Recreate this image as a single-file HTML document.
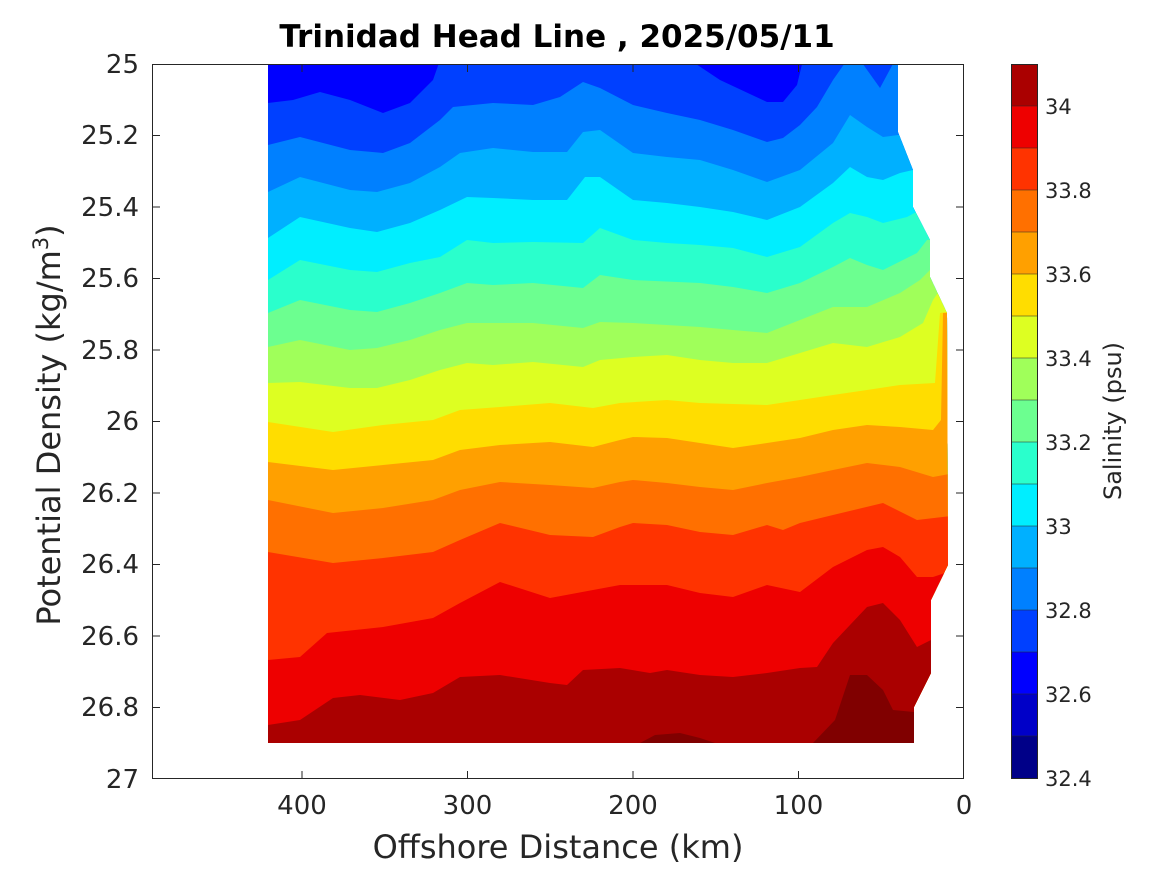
<!DOCTYPE html>
<html><head><meta charset="utf-8"><style>
html,body{margin:0;padding:0;background:#fff;}
svg{display:block;font-family:"DejaVu Sans","Liberation Sans",sans-serif;}
</style></head><body>
<svg width="1167" height="875" viewBox="0 0 1167 875" xmlns="http://www.w3.org/2000/svg">
<defs>
<clipPath id="dc"><polygon points="268,64 898,64 898,132 913,170 913,207 930,240 930,277 947,313 948,565 931,600 931,673 914,707 914,743 268,743"/></clipPath>
</defs>
<g clip-path="url(#dc)">
<rect x="260" y="60" width="700" height="690" fill="#0040ff"/>
<polygon fill="#0000ff" points="260,60 260,103 268,103 293,100 320,92 350,100 383,113 410,103 433,80 440,60"/>
<polygon fill="#0000ff" points="690,60 720,80 767,102 783,102 797,85 803,60"/>
<polygon fill="#0080ff" points="260,145 268,145 300,137 350,150 383,153 410,143 440,120 453,107 493,103 533,105 560,97 583,82 600,88 633,105 667,113 700,120 733,130 767,142 783,138 800,125 817,107 833,80 847,60 860,60 880,88 895,60 960,60 960,750 260,750"/>
<polygon fill="#00b0ff" points="260,192 268,192 300,177 350,190 377,192 410,183 440,167 460,153 493,148 533,152 567,152 583,132 600,130 633,153 667,157 700,160 733,170 767,182 800,170 833,143 850,115 867,127 883,137 898,135 960,135 960,750 260,750"/>
<polygon fill="#00eeff" points="260,238 268,238 300,217 350,228 377,232 410,223 440,210 467,197 493,198 533,200 567,200 585,177 600,177 633,200 667,203 700,207 733,212 767,220 800,207 833,183 850,167 867,177 883,180 900,173 913,170 960,170 960,750 260,750"/>
<polygon fill="#2affcc" points="260,280 268,280 300,260 350,270 377,272 410,263 440,257 467,240 493,243 533,242 583,243 600,228 633,240 667,243 700,245 733,248 767,257 800,247 833,223 850,213 867,217 883,223 907,217 920,210 960,205 960,750 260,750"/>
<polygon fill="#6cff90" points="260,313 268,313 300,300 350,310 377,312 410,303 440,293 467,283 493,285 533,283 583,288 600,275 633,280 700,283 733,287 767,293 800,283 833,267 850,258 867,265 883,270 917,253 927,240 960,235 960,750 260,750"/>
<polygon fill="#a0ff5a" points="260,347 268,347 300,340 350,350 377,348 410,340 440,330 467,323 493,323 533,323 583,328 600,322 633,323 700,327 733,330 767,333 800,320 833,307 867,307 900,293 920,280 933,267 960,260 960,750 260,750"/>
<polygon fill="#ddff22" points="260,383 268,383 300,382 350,388 377,388 410,380 440,370 467,363 493,365 533,362 583,367 600,360 633,357 667,355 700,360 733,363 767,363 800,353 833,343 867,347 900,337 923,323 933,300 940,290 960,285 960,750 260,750"/>
<polygon fill="#ffdd00" points="260,422 268,422 333,432 383,425 433,420 460,410 500,407 550,403 593,408 620,403 667,400 700,403 767,405 800,400 833,395 867,390 900,385 935,383 940,313 960,310 960,750 260,750"/>
<polygon fill="#ffa000" points="260,462 268,462 333,470 383,465 433,460 460,450 500,445 550,442 593,447 620,440 633,437 667,438 700,443 733,448 767,443 800,438 833,430 867,425 900,427 933,430 941,420 943,313 960,313 960,750 260,750"/>
<polygon fill="#ff7000" points="260,500 268,500 333,513 383,508 433,500 460,490 500,482 550,485 593,488 620,482 633,480 667,483 700,487 733,490 767,483 800,477 833,470 867,463 900,467 933,477 960,472 960,750 260,750"/>
<polygon fill="#ff3300" points="260,552 268,552 333,563 383,558 433,552 460,540 500,523 550,535 593,537 620,527 633,523 667,525 700,532 733,535 767,525 783,530 800,523 833,515 883,503 917,520 960,515 960,750 260,750"/>
<polygon fill="#ee0000" points="260,660 268,660 300,657 327,633 383,627 433,618 460,603 500,582 550,598 593,590 620,585 667,585 700,593 733,597 767,585 800,592 833,567 867,550 883,547 900,557 917,577 933,577 960,568 960,750 260,750"/>
<polygon fill="#aa0000" points="260,725 268,725 300,720 333,698 360,695 400,700 433,693 460,677 500,675 550,683 567,685 583,670 620,668 650,673 667,670 700,675 733,677 767,673 800,668 817,667 833,643 867,607 883,603 900,620 917,647 931,640 960,640 960,750 260,750"/>
<polygon fill="#800000" points="640,743 655,735 680,733 700,738 715,743"/>
<polygon fill="#800000" points="813,743 835,720 850,675 867,675 883,690 893,710 914,712 914,743"/>
</g>
<rect x="152.5" y="64.5" width="811" height="714" fill="none" stroke="#262626" stroke-width="1"/>
<g stroke="#262626" stroke-width="1">
<line x1="302" y1="779" x2="302" y2="771"/><line x1="467.5" y1="779" x2="467.5" y2="771"/><line x1="633" y1="779" x2="633" y2="771"/><line x1="798.5" y1="779" x2="798.5" y2="771"/>
<line x1="302" y1="64" x2="302" y2="72"/><line x1="467.5" y1="64" x2="467.5" y2="72"/><line x1="633" y1="64" x2="633" y2="72"/><line x1="798.5" y1="64" x2="798.5" y2="72"/>
<line x1="152" y1="135.5" x2="160" y2="135.5"/><line x1="152" y1="207" x2="160" y2="207"/><line x1="152" y1="278.5" x2="160" y2="278.5"/><line x1="152" y1="350" x2="160" y2="350"/><line x1="152" y1="421.5" x2="160" y2="421.5"/><line x1="152" y1="493" x2="160" y2="493"/><line x1="152" y1="564.5" x2="160" y2="564.5"/><line x1="152" y1="636" x2="160" y2="636"/><line x1="152" y1="707.5" x2="160" y2="707.5"/>
<line x1="964" y1="135.5" x2="956" y2="135.5"/><line x1="964" y1="207" x2="956" y2="207"/><line x1="964" y1="278.5" x2="956" y2="278.5"/><line x1="964" y1="350" x2="956" y2="350"/><line x1="964" y1="421.5" x2="956" y2="421.5"/><line x1="964" y1="493" x2="956" y2="493"/><line x1="964" y1="564.5" x2="956" y2="564.5"/><line x1="964" y1="636" x2="956" y2="636"/><line x1="964" y1="707.5" x2="956" y2="707.5"/>
</g>
<g font-size="26" fill="#262626" text-anchor="end">
<text x="139" y="73">25</text><text x="139" y="144">25.2</text><text x="139" y="216">25.4</text><text x="139" y="287">25.6</text><text x="139" y="359">25.8</text><text x="139" y="430">26</text><text x="139" y="502">26.2</text><text x="139" y="573">26.4</text><text x="139" y="645">26.6</text><text x="139" y="716">26.8</text><text x="139" y="788">27</text>
</g>
<g font-size="26" fill="#262626" text-anchor="middle">
<text x="302" y="814">400</text><text x="467.5" y="814">300</text><text x="633" y="814">200</text><text x="798.5" y="814">100</text><text x="964" y="814">0</text>
<text x="558" y="858" font-size="32">Offshore Distance (km)</text>
<text x="557" y="47" font-size="31" font-weight="bold" fill="#000">Trinidad Head Line , 2025/05/11</text>
</g>
<text transform="translate(60,425) rotate(-90)" font-size="32" fill="#262626" text-anchor="middle">Potential Density (kg/m<tspan dy="-12" font-size="21">3</tspan><tspan dy="12">)</tspan></text>
<g>
<rect x="1011" y="64" width="26" height="43" fill="#aa0000"/>
<rect x="1011" y="106" width="26" height="43" fill="#ee0000"/>
<rect x="1011" y="148" width="26" height="43" fill="#ff3300"/>
<rect x="1011" y="190" width="26" height="43" fill="#ff7000"/>
<rect x="1011" y="232" width="26" height="43" fill="#ffa000"/>
<rect x="1011" y="274" width="26" height="43" fill="#ffdd00"/>
<rect x="1011" y="316" width="26" height="43" fill="#ddff22"/>
<rect x="1011" y="358" width="26" height="43" fill="#a0ff5a"/>
<rect x="1011" y="400" width="26" height="43" fill="#6cff90"/>
<rect x="1011" y="442" width="26" height="43" fill="#2affcc"/>
<rect x="1011" y="484" width="26" height="43" fill="#00eeff"/>
<rect x="1011" y="526" width="26" height="43" fill="#00b0ff"/>
<rect x="1011" y="568" width="26" height="43" fill="#0080ff"/>
<rect x="1011" y="610" width="26" height="43" fill="#0040ff"/>
<rect x="1011" y="652" width="26" height="43" fill="#0000ff"/>
<rect x="1011" y="694" width="26" height="43" fill="#0000c8"/>
<rect x="1011" y="736" width="26" height="43" fill="#000088"/>
<g stroke="#262626" stroke-width="0.6">
<line x1="1011" y1="106" x2="1037" y2="106"/><line x1="1011" y1="148" x2="1037" y2="148"/><line x1="1011" y1="190" x2="1037" y2="190"/><line x1="1011" y1="232" x2="1037" y2="232"/><line x1="1011" y1="274" x2="1037" y2="274"/><line x1="1011" y1="316" x2="1037" y2="316"/><line x1="1011" y1="358" x2="1037" y2="358"/><line x1="1011" y1="400" x2="1037" y2="400"/><line x1="1011" y1="442" x2="1037" y2="442"/><line x1="1011" y1="484" x2="1037" y2="484"/><line x1="1011" y1="526" x2="1037" y2="526"/><line x1="1011" y1="568" x2="1037" y2="568"/><line x1="1011" y1="610" x2="1037" y2="610"/><line x1="1011" y1="652" x2="1037" y2="652"/><line x1="1011" y1="694" x2="1037" y2="694"/><line x1="1011" y1="736" x2="1037" y2="736"/>
</g>
<rect x="1011.5" y="64.5" width="26" height="714" fill="none" stroke="#262626" stroke-width="1"/>
</g>
<g font-size="21" fill="#262626">
<text x="1045" y="114">34</text><text x="1045" y="198">33.8</text><text x="1045" y="282">33.6</text><text x="1045" y="366">33.4</text><text x="1045" y="450">33.2</text><text x="1045" y="534">33</text><text x="1045" y="618">32.8</text><text x="1045" y="702">32.6</text><text x="1045" y="786">32.4</text>
</g>
<text transform="translate(1121,421) rotate(-90)" font-size="24" fill="#262626" text-anchor="middle">Salinity (psu)</text>
</svg>
</body></html>
